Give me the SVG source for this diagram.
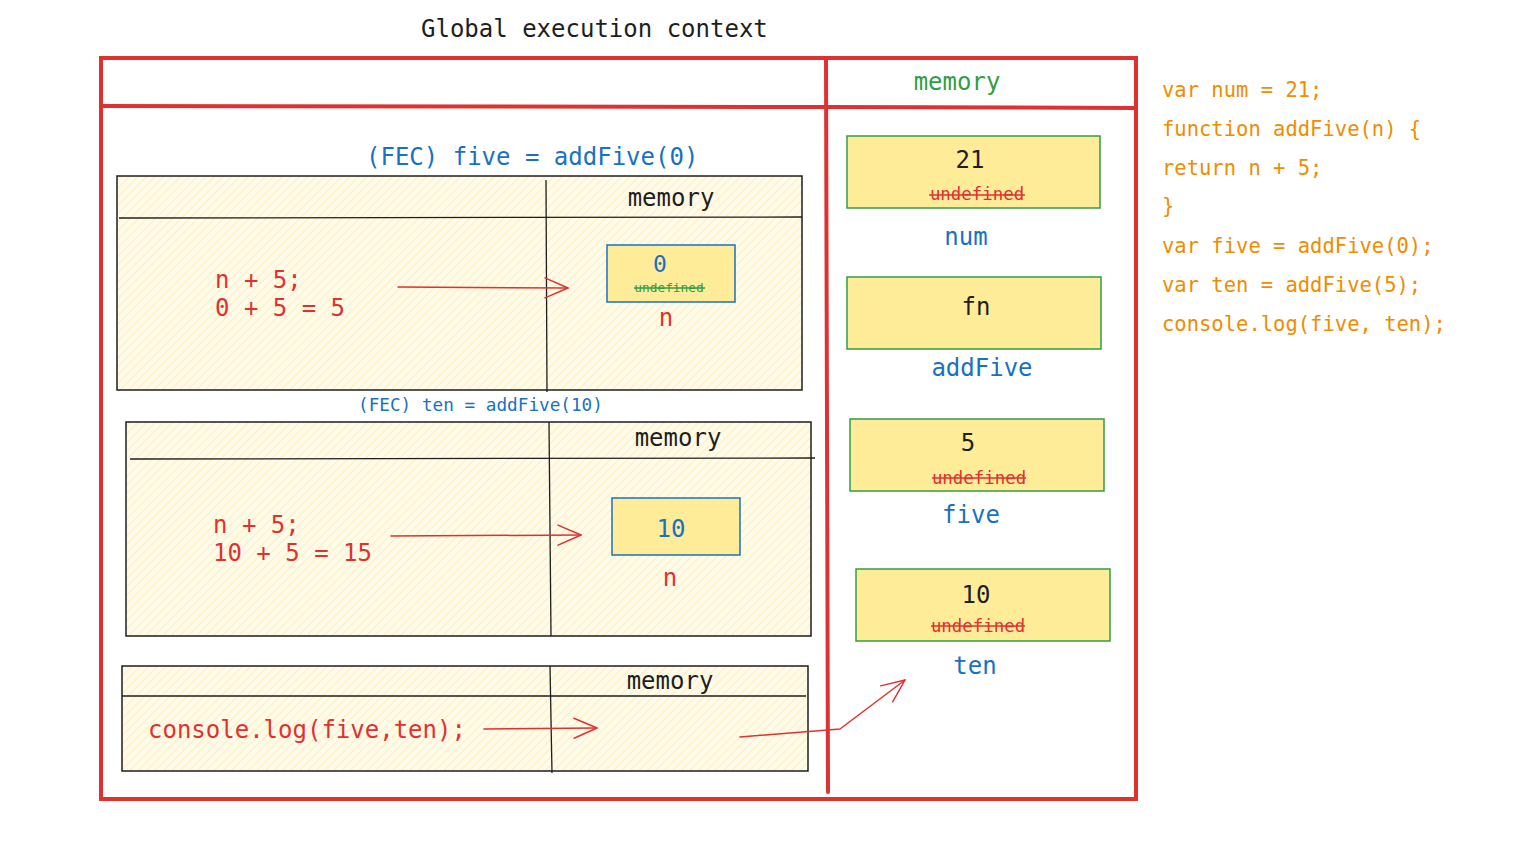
<svg xmlns="http://www.w3.org/2000/svg" width="1521" height="841" viewBox="0 0 1521 841">
<defs>
<pattern id="hatch" patternUnits="userSpaceOnUse" width="6" height="6" patternTransform="rotate(45)">
<rect width="6" height="6" fill="#fffbea"/>
<line x1="0" y1="0" x2="0" y2="6" stroke="#fbe9a6" stroke-width="1.4"/>
</pattern>
<marker id="arr" markerUnits="userSpaceOnUse" markerWidth="40" markerHeight="40" viewBox="-30 -20 40 40" refX="0" refY="0" orient="auto">
<path d="M-23,-10 L0,0 L-23,10" fill="none" stroke="#e03131" stroke-width="1.5" stroke-linecap="round" stroke-linejoin="round"/>
</marker>
<style>
text{font-family:"DejaVu Sans Mono","Liberation Mono",monospace;}
.k{fill:#1e1e1e}
.b{fill:#1971c2}
.r{fill:#e03131}
.g{fill:#2f9e44}
.o{fill:#f08c00}
.frame{fill:none;stroke:#e03131;stroke-width:4;stroke-linecap:round}
.fec{fill:url(#hatch);stroke:#1e1e1e;stroke-width:1.5}
.ln{stroke:#1e1e1e;stroke-width:1.3;fill:none}
.mb{fill:#ffec99;stroke:#1971c2;stroke-width:1.5}
.mg{fill:#ffec99;stroke:#2f9e44;stroke-width:1.5}
.strk{stroke-width:1.5}
.con{fill:none;stroke:#e03131;stroke-width:1.5;stroke-linecap:round;stroke-linejoin:round}
</style>
</defs>
<rect width="1521" height="841" fill="#ffffff"/>

<g id="global-context">
<text x="421" y="37" font-size="24" class="k">Global execution context</text>
<rect x="101" y="58" width="1035" height="741" class="frame"/>
<path d="M101,106 L826,107 L1136,108" class="frame"/>
<path d="M826,58 L828,792" class="frame"/>
<text x="957" y="90" font-size="24" class="g" text-anchor="middle">memory</text>
</g>

<g id="fec-five">
<text x="366" y="165" font-size="24" class="b">(FEC) five = addFive(0)</text>
<rect x="117" y="176" width="685" height="214" class="fec"/>
<path d="M119,218 L802,217" class="ln"/>
<path d="M546,180 L547,392" class="ln"/>
<text x="671" y="206" font-size="24" class="k" text-anchor="middle">memory</text>
<text x="215" y="288" font-size="24" class="r">n + 5;</text>
<text x="215" y="316" font-size="24" class="r">0 + 5 = 5</text>
</g>

<g id="fec-five-n">
<rect x="607" y="245" width="128" height="57" class="mb"/>
<text x="660" y="272" font-size="23" class="b" text-anchor="middle">0</text>
<text x="669" y="292" font-size="12.8" class="g" text-anchor="middle">undefined</text>
<line x1="634" y1="288" x2="705" y2="288" stroke="#2f9e44" class="strk"/>
<text x="666" y="326" font-size="24" class="r" text-anchor="middle">n</text>
</g>

<g id="fec-ten">
<text x="358" y="411" font-size="17.7" class="b">(FEC) ten = addFive(10)</text>
<rect x="126" y="422" width="685" height="214" class="fec"/>
<path d="M130,459 L815,458" class="ln"/>
<path d="M549,422 L551,636" class="ln"/>
<text x="678" y="446" font-size="24" class="k" text-anchor="middle">memory</text>
<text x="213" y="533" font-size="24" class="r">n + 5;</text>
<text x="213" y="561" font-size="24" class="r">10 + 5 = 15</text>
</g>

<g id="fec-ten-n">
<rect x="612" y="498" width="128" height="57" class="mb"/>
<text x="671" y="537" font-size="24" class="b" text-anchor="middle">10</text>
<text x="670" y="586" font-size="24" class="r" text-anchor="middle">n</text>
</g>

<g id="console-log">
<rect x="122" y="666" width="686" height="105" class="fec"/>
<path d="M122,696 L806,696" class="ln"/>
<path d="M550,666 L552,773" class="ln"/>
<text x="670" y="689" font-size="24" class="k" text-anchor="middle">memory</text>
<text x="148" y="738" font-size="24" class="r">console.log(five,ten);</text>
</g>

<g id="mem-num">
<rect x="847" y="136" width="253" height="72" class="mg"/>
<text x="970" y="168" font-size="24" class="k" text-anchor="middle">21</text>
<text x="977" y="200" font-size="17.4" class="r" text-anchor="middle">undefined</text>
<line x1="929" y1="195" x2="1025" y2="195" stroke="#e03131" class="strk"/>
<text x="966" y="245" font-size="24" class="b" text-anchor="middle">num</text>
</g>

<g id="mem-addFive">
<rect x="847" y="277" width="254" height="72" class="mg"/>
<text x="976" y="315" font-size="24" class="k" text-anchor="middle">fn</text>
<text x="982" y="376" font-size="24" class="b" text-anchor="middle">addFive</text>
</g>

<g id="mem-five">
<rect x="850" y="419" width="254" height="72" class="mg"/>
<text x="968" y="451" font-size="24" class="k" text-anchor="middle">5</text>
<text x="979" y="484" font-size="17.4" class="r" text-anchor="middle">undefined</text>
<line x1="932" y1="478" x2="1026" y2="478" stroke="#e03131" class="strk"/>
<text x="971" y="523" font-size="24" class="b" text-anchor="middle">five</text>
</g>

<g id="mem-ten">
<rect x="856" y="569" width="254" height="72" class="mg"/>
<text x="976" y="603" font-size="24" class="k" text-anchor="middle">10</text>
<text x="978" y="632" font-size="17.4" class="r" text-anchor="middle">undefined</text>
<line x1="931" y1="626" x2="1025" y2="626" stroke="#e03131" class="strk"/>
<text x="975" y="674" font-size="24" class="b" text-anchor="middle">ten</text>
</g>

<g id="source-code" font-size="20.5" class="o">
<text x="1162" y="97" class="o">var num = 21;</text>
<text x="1162" y="136" class="o">function addFive(n) {</text>
<text x="1162" y="175" class="o">return n + 5;</text>
<text x="1162" y="213" class="o">}</text>
<text x="1162" y="253" class="o">var five = addFive(0);</text>
<text x="1162" y="292" class="o">var ten = addFive(5);</text>
<text x="1162" y="331" class="o">console.log(five, ten);</text>
</g>

<g id="connectors">
<path d="M398,287 L568,288" class="con" marker-end="url(#arr)"/>
<path d="M391,536 L581,535" class="con" marker-end="url(#arr)"/>
<path d="M484,729 L597,728" class="con" marker-end="url(#arr)"/>
<path d="M740,737 L840,729 L905,680" class="con" marker-end="url(#arr)"/>
</g>
</svg>
